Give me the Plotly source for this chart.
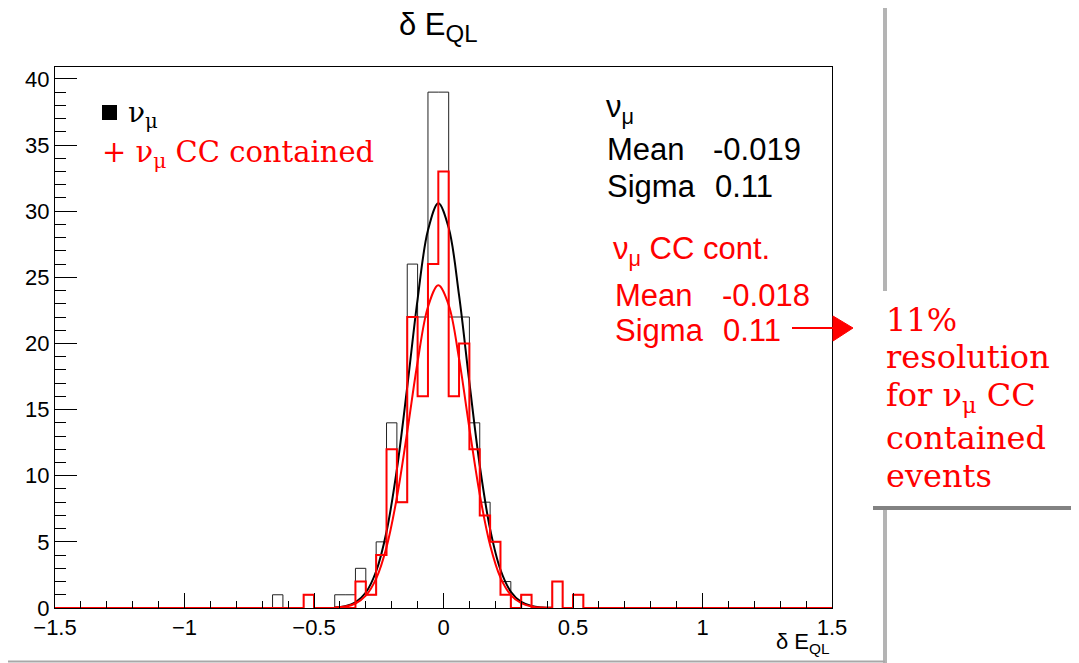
import plotly.graph_objects as go

# ---------------- data ----------------
x_min, x_max, bin_width = -1.5, 1.5, 0.04

# nu_mu (black) histogram: non-empty bin centres and counts
numu_centers = [-0.64, -0.52, -0.40, -0.36, -0.32, -0.28, -0.24, -0.20, -0.16, -0.12, -0.08,
                -0.04, 0.00, 0.04, 0.08, 0.12, 0.16, 0.20, 0.24, 0.32, 0.44, 0.52]
numu_counts = [1, 1, 1, 1, 3, 1, 5, 14, 8, 26, 22,
               39, 39, 22, 22, 14, 8, 5, 2, 1, 2, 1]

# nu_mu CC contained (red) histogram
cc_centers = [-0.52, -0.32, -0.28, -0.24, -0.20, -0.16, -0.12, -0.08, -0.04, 0.00,
              0.04, 0.08, 0.12, 0.16, 0.20, 0.24, 0.32, 0.44, 0.52]
cc_counts = [1, 2, 1, 4, 12, 8, 22, 16, 26, 33,
             16, 20, 12, 7, 5, 1, 1, 2, 1]

# Gaussian fit curves
fit_x = [-0.42, -0.38, -0.34, -0.30, -0.26, -0.22, -0.18, -0.14, -0.10, -0.06, -0.02,
         0.02, 0.06, 0.10, 0.14, 0.18, 0.22, 0.26, 0.30, 0.34, 0.38, 0.42]
fit_numu = [0.04, 0.14, 0.43, 1.17, 2.78, 5.77, 10.48, 16.71, 23.34, 28.55, 30.6,
            28.74, 23.65, 17.05, 10.77, 5.96, 2.89, 1.23, 0.46, 0.15, 0.04, 0.01]
fit_cc = [0.03, 0.11, 0.34, 0.93, 2.22, 4.60, 8.35, 13.32, 18.60, 22.76, 24.4,
          22.91, 18.85, 13.59, 8.58, 4.75, 2.30, 0.98, 0.37, 0.12, 0.03, 0.01]

x_ticks = [-1.5, -1, -0.5, 0, 0.5, 1, 1.5]
y_ticks = [0, 5, 10, 15, 20, 25, 30, 35, 40]

# ---------------- build step outlines ----------------
n_bins = int(round((x_max - x_min) / bin_width))
edges = [x_min + i * bin_width for i in range(n_bins + 1)]


def full_counts(centers, counts):
    arr = [0] * n_bins
    for c, v in zip(centers, counts):
        idx = int(round((c - x_min) / bin_width - 0.5))
        arr[idx] = v
    return arr


numu_full = full_counts(numu_centers, numu_counts)
cc_full = full_counts(cc_centers, cc_counts)

# ---------------- pixel helpers for layout decorations ----------------
# the page body adds an 8px offset, compensated in the figure size/margins
OFF = 8
L, R, T, B = 55, 832, 67, 608
W, H = R - L, B - T


def px(x):
    return (x - L) / W


def py(y):
    return (B - y) / H


fig = go.Figure()

fig.add_trace(go.Scatter(x=edges, y=numu_full + [numu_full[-1]], mode="lines",
                         line=dict(color="#222222", width=1, shape="hv"),
                         hoverinfo="skip", showlegend=False))
fig.add_trace(go.Scatter(x=fit_x, y=fit_numu, mode="lines",
                         line=dict(color="black", width=2, shape="spline"),
                         hoverinfo="skip", showlegend=False))
fig.add_trace(go.Scatter(x=edges, y=cc_full + [cc_full[-1]], mode="lines",
                         line=dict(color="#ff0000", width=2, shape="hv"),
                         hoverinfo="skip", showlegend=False))
fig.add_trace(go.Scatter(x=fit_x, y=fit_cc, mode="lines",
                         line=dict(color="#ff0000", width=2, shape="spline"),
                         hoverinfo="skip", showlegend=False))

SANS = "Liberation Sans, Arial, sans-serif"
SERIF = "DejaVu Serif, serif"

annotations = []


def txt(text, x, y, size, color="black", family=SANS, xanchor="left", yanchor="middle"):
    annotations.append(dict(text=text, x=px(x), y=py(y), xref="paper", yref="paper",
                            showarrow=False, xanchor=xanchor, yanchor=yanchor,
                            font=dict(size=size, color=color, family=family),
                            borderpad=0))


# title
txt("δ\u00a0E<sub><span style='font-size:24px'>QL</span></sub>", 398, 27, 31)
# x axis title
txt("δ E<sub>QL</sub>", 831, 643, 22, xanchor="right")

# legend
txt("ν<sub>μ</sub>", 127, 114, 28, family=SERIF)
txt("+ ν<sub>μ</sub> CC contained", 101, 154, 29, color="#ff0000", family=SERIF)

# black stats
txt("ν<sub>μ</sub>", 605, 109, 31)
txt("Mean", 606, 149, 31)
txt("-0.019", 712, 149, 31)
txt("Sigma", 606, 186, 31)
txt("0.11", 714, 186, 31)

# red stats
txt("ν<sub>μ</sub> CC cont.", 612, 251, 31, color="#ff0000")
txt("Mean", 614, 295, 31, color="#ff0000")
txt("-0.018", 721, 295, 31, color="#ff0000")
txt("Sigma", 614, 330, 31, color="#ff0000")
txt("0.11", 722, 330, 31, color="#ff0000")

# right-hand comment
for line, yy in [("11%", 320), ("resolution", 357), ("for ν<sub>μ</sub> CC", 397),
                 ("contained", 438), ("events", 476)]:
    txt(line, 885, yy, 32, color="#ff0000", family=SERIF)

shapes = [
    # legend marker
    dict(type="rect", xref="paper", yref="paper", x0=px(102), x1=px(117), y0=py(120), y1=py(105),
         fillcolor="black", line=dict(width=0)),
    # arrow
    dict(type="line", xref="paper", yref="paper", x0=px(792), x1=px(836), y0=py(328), y1=py(328),
         line=dict(color="#ff0000", width=2)),
    dict(type="path", xref="paper", yref="paper",
         path=f"M {px(833)},{py(316)} L {px(853)},{py(328)} L {px(833)},{py(341)} Z",
         fillcolor="#ff0000", line=dict(color="#ff0000", width=1)),
    # slide decorations
    dict(type="line", xref="paper", yref="paper", x0=px(885), x1=px(885), y0=py(6), y1=py(291),
         line=dict(color="#b4b4b4", width=4)),
    dict(type="line", xref="paper", yref="paper", x0=px(885), x1=px(885), y0=py(509), y1=py(663),
         line=dict(color="#b4b4b4", width=4)),
    dict(type="line", xref="paper", yref="paper", x0=px(873), x1=px(1079), y0=py(508), y1=py(508),
         line=dict(color="#828282", width=4)),
    dict(type="line", xref="paper", yref="paper", x0=px(0), x1=px(885), y0=py(661.5), y1=py(661.5),
         line=dict(color="#a8a8a8", width=2)),
]

fig.update_layout(
    width=1079 - OFF, height=663 - OFF,
    margin=dict(l=L - OFF, r=1079 - R, t=T - OFF, b=663 - B, pad=0),
    paper_bgcolor="white", plot_bgcolor="white",
    showlegend=False,
    annotations=annotations,
    shapes=shapes,
    font=dict(family=SANS, color="black"),
)

fig.update_xaxes(
    range=[x_min, x_max], tickvals=x_ticks, showgrid=False, zeroline=False,
    showline=True, linecolor="black", linewidth=1, mirror=True,
    ticks="inside", ticklen=15, tickwidth=1, tickcolor="black",
    minor=dict(ticks="inside", ticklen=7, dtick=0.1, tick0=0, tickcolor="black", tickwidth=1, showgrid=False),
    tickfont=dict(size=22, family=SANS, color="black"),
)
fig.update_yaxes(
    range=[0, 40.9], tickvals=y_ticks, showgrid=False, zeroline=False,
    showline=True, linecolor="black", linewidth=1, mirror=True,
    ticks="inside", ticklen=22, tickwidth=1, tickcolor="black",
    minor=dict(ticks="inside", ticklen=11, dtick=1, tick0=0, tickcolor="black", tickwidth=1, showgrid=False),
    tickfont=dict(size=22, family=SANS, color="black"),
)

fig.write_html("out.html")
